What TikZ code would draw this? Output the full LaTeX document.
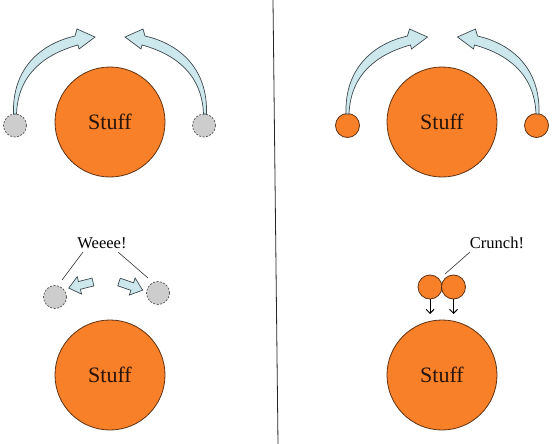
\documentclass[tikz,border=0pt]{standalone}
\usepackage{fontspec}
\setmainfont{Liberation Serif}
\usetikzlibrary{arrows.meta}
\definecolor{orng}{RGB}{248,128,40}
\definecolor{orngline}{RGB}{95,50,20}
\definecolor{stufftext}{RGB}{40,20,10}
\definecolor{pale}{RGB}{205,232,237}
\definecolor{paleline}{RGB}{60,72,78}
\definecolor{greyfill}{RGB}{205,205,205}
\definecolor{greyline}{RGB}{80,80,80}
\tikzset{
  bigc/.style={circle, fill=orng, draw=orngline, line width=0.8pt, minimum size=110pt, inner sep=0pt, text=stufftext, font=\fontsize{22}{25}\selectfont},
  smallorange/.style={circle, fill=orng, draw=orngline, line width=0.8pt, minimum size=24pt, inner sep=0pt},
  smallgrey/.style={circle, fill=greyfill, draw=greyline, dashed, dash pattern=on 2pt off 1.5pt, line width=0.7pt, minimum size=23pt, inner sep=0pt},
  fatarrow/.style={fill=pale, draw=paleline, line width=0.7pt, line join=miter},
  label/.style={font=\fontsize{16.5}{19}\selectfont, inner sep=1pt},
  leader/.style={draw=black!80, line width=0.6pt},
  droparrow/.style={draw=black, line width=0.9pt, -{Straight Barb[length=4pt,width=8pt]}},
  bigarrow/.pic={
    \draw[fatarrow] (-1.5,0) .. controls (-3,-45) and (25,-70) .. (60,-78)
      -- (62,-85) -- (80,-77) -- (64,-65) -- (63,-69)
      .. controls (30,-60) and (3,-40) .. (1.5,0) -- cycle;
  },
  smallarrow/.pic={
    \draw[fatarrow] (0,-4) -- (14,-4) -- (14,-9) -- (25,0) -- (14,9) -- (14,4) -- (0,4) -- cycle;
  }
}
\begin{document}
\begin{tikzpicture}[x=1pt,y=-1pt]
\useasboundingbox[fill=white] (0,0) rectangle (554,444);
% divider
\draw[black!85, line width=0.8pt] (273,0) -- (278,444);

% top left
\node[bigc] (s1) at (110,122) {Stuff};
\node[smallgrey] (g1) at (15,125.5) {};
\node[smallgrey] (g2) at (204,125.5) {};
\pic at (15,114) {bigarrow};
\pic[xscale=-1] at (205,114) {bigarrow};

% top right
\node[bigc] (s2) at (442,122) {Stuff};
\node[smallorange] (o1) at (347.5,125.5) {};
\node[smallorange] (o2) at (536.5,125.5) {};
\pic at (347.5,114) {bigarrow};
\pic[xscale=-1] at (537.5,114) {bigarrow};

% bottom left
\node[bigc] (s3) at (110,375) {Stuff};
\node[smallgrey] (g3) at (55,297) {};
\node[smallgrey] (g4) at (158,293) {};
\node[label] (wee) at (102,243) {Weeee!};
\coordinate (w1) at (83,252);
\coordinate (w2) at (62,280);
\coordinate (w3) at (118,252);
\coordinate (w4) at (148,278);
\draw[leader] (w1) -- (w2);
\draw[leader] (w3) -- (w4);
\pic[rotate=194] at (93,282) {smallarrow};
\pic[rotate=-19] at (119,282) {smallarrow};

% bottom right
\node[bigc] (s4) at (442,375) {Stuff};
\node[smallorange] (o3) at (430,287) {};
\node[smallorange] (o4) at (453.5,287) {};
\coordinate (d1) at (430,314);
\coordinate (d2) at (453.5,314);
\draw[droparrow] (o3.south) -- (d1);
\draw[droparrow] (o4.south) -- (d2);
\node[label] (cr) at (497,243) {Crunch!};
\coordinate (c1) at (470,252);
\coordinate (c2) at (445,274);
\draw[leader] (c1) -- (c2);
\end{tikzpicture}
\end{document}
